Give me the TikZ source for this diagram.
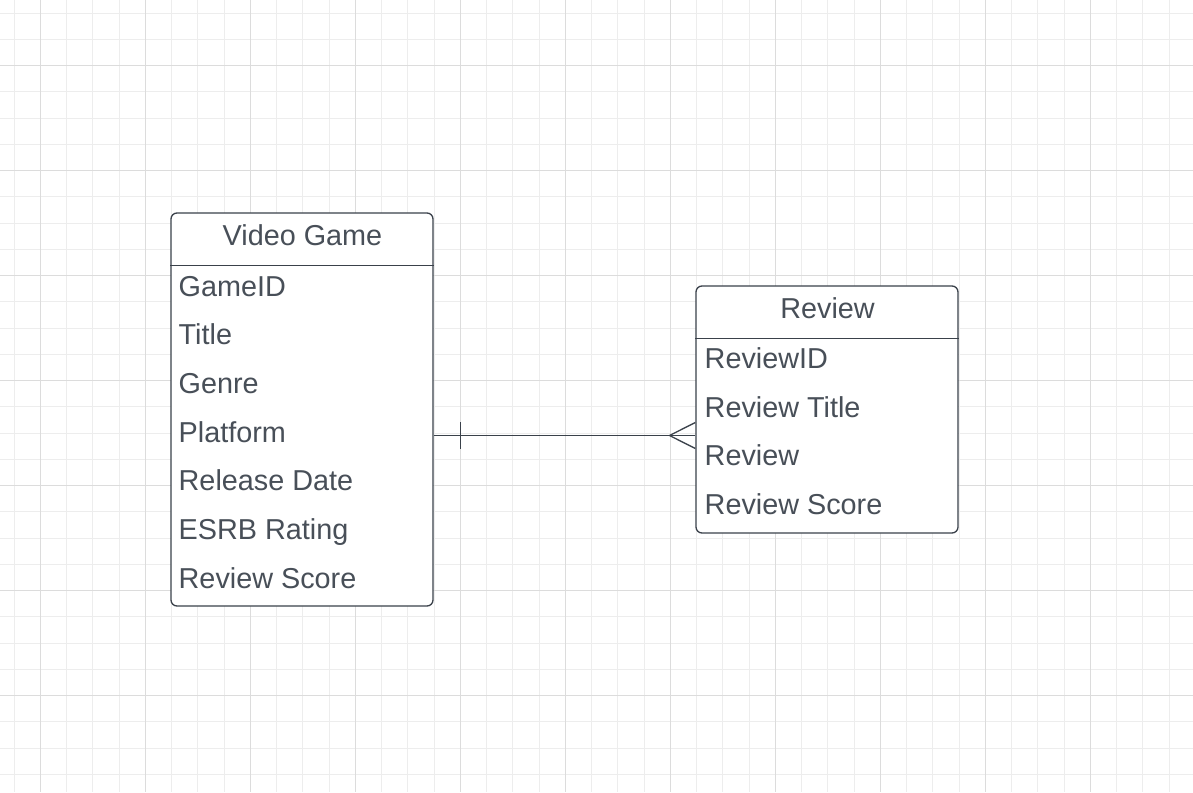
\documentclass[tikz,border=0pt]{standalone}
\usepackage{fontspec}
\setmainfont{Liberation Sans}
\definecolor{ink}{HTML}{3A414A}
\definecolor{txt}{HTML}{484F58}
\definecolor{gridminor}{HTML}{EDEDED}
\definecolor{gridmajor}{HTML}{DCDCDC}
\begin{document}
\begin{tikzpicture}[x=1pt,y=-1pt,
  tablebox/.style={draw=ink,line width=1.3pt,rounded corners=6pt,fill=white,inner sep=0pt},
  headtext/.style={text=txt,font=\fontsize{28.8}{34}\selectfont,inner sep=0pt,anchor=base},
  rowtext/.style={text=txt,font=\fontsize{28.8}{34}\selectfont,inner sep=0pt,anchor=base west},
  rel/.style={draw=ink,line width=1.3pt}]
\useasboundingbox (0,0) rectangle (1193,792);
\fill[white] (0,0) rectangle (1193,792);
% grid
\foreach \i in {0,...,45} {
  \draw[gridminor,line width=1pt] ({14.05+26.25*\i},0) -- ({14.05+26.25*\i},792);
}
\foreach \i in {0,...,30} {
  \draw[gridminor,line width=1pt] (0,{13.05+26.25*\i}) -- (1193,{13.05+26.25*\i});
}
\foreach \i in {0,...,11} {
  \draw[gridmajor,line width=1pt] ({40.3+105*\i},0) -- ({40.3+105*\i},792);
}
\foreach \i in {0,...,7} {
  \draw[gridmajor,line width=1pt] (0,{65.3+105*\i}) -- (1193,{65.3+105*\i});
}
% Video Game table
\node[tablebox,minimum width=262pt,minimum height=393pt] (vg) at (302,409.5) {};
\draw[rel] (vg.west |- 0,265.5) -- (vg.east |- 0,265.5);
\node[headtext] (vgh) at (302.5,245.5) {Video Game};
\node[rowtext] (vg1) at (178.5,296) {GameID};
\node[rowtext] (vg2) at (178.5,344.7) {Title};
\node[rowtext] (vg3) at (178.5,393.4) {Genre};
\node[rowtext] (vg4) at (178.5,442.1) {Platform};
\node[rowtext] (vg5) at (178.5,490.8) {Release Date};
\node[rowtext] (vg6) at (178.5,539.5) {ESRB Rating};
\node[rowtext] (vg7) at (178.5,588.2) {Review Score};
% Review table
\node[tablebox,minimum width=262pt,minimum height=247pt] (rv) at (827,409.5) {};
\draw[rel] (rv.west |- 0,338.5) -- (rv.east |- 0,338.5);
\node[headtext] (rvh) at (827.5,318) {Review};
\node[rowtext] (rv1) at (704.5,368.5) {ReviewID};
\node[rowtext] (rv2) at (704.5,417.2) {Review Title};
\node[rowtext] (rv3) at (704.5,465.9) {Review};
\node[rowtext] (rv4) at (704.5,514.6) {Review Score};
% relationship
\coordinate (a) at (vg.east |- 0,435.5);
\coordinate (b) at (rv.west |- 0,435.5);
\draw[rel] (a) -- (b);
\coordinate (t1) at (460.5,422);
\coordinate (t2) at (460.5,448.5);
\draw[rel] (t1) -- (t2);
\coordinate (cf) at (669.5,435.5);
\draw[rel] (rv.west |- 0,422.5) -- (cf) -- (rv.west |- 0,448.5);
\end{tikzpicture}
\end{document}
